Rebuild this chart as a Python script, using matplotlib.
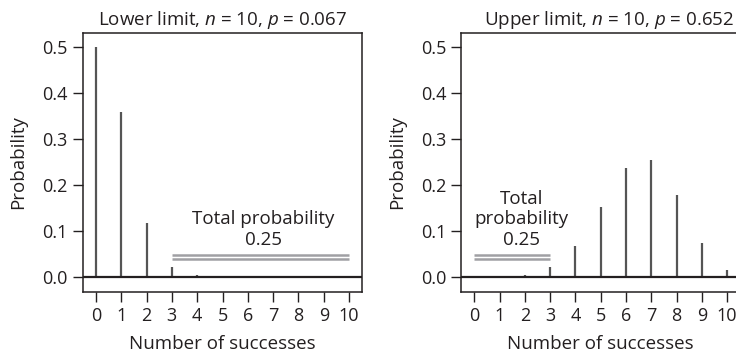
import matplotlib
matplotlib.use("Agg")
import matplotlib.pyplot as plt

plt.rcParams['font.family'] = ['Open Sans', 'DejaVu Sans']
plt.rcParams['mathtext.fontset'] = 'custom'
plt.rcParams['mathtext.rm'] = 'Open Sans'
plt.rcParams['mathtext.it'] = 'Open Sans:italic'

successes = [0, 1, 2, 3, 4, 5, 6, 7, 8, 9, 10]
prob_lower = [0.500, 0.359, 0.116, 0.022, 0.003, 0.0002, 0.0, 0.0, 0.0, 0.0, 0.0]
prob_upper = [0.00003, 0.0005, 0.004, 0.021, 0.067, 0.152, 0.237, 0.253, 0.178, 0.074, 0.014]
titles = ["Lower limit, $n$ = 10, $p$ = 0.067", "Upper limit, $n$ = 10, $p$ = 0.652"]
yticks = [0.0, 0.1, 0.2, 0.3, 0.4, 0.5]
ytick_labels = ["0.0", "0.1", "0.2", "0.3", "0.4", "0.5"]
xtick_labels = [str(s) for s in successes]
band_lower = (3, 10)
band_upper = (0, 3)
band_text_lower = "Total probability\n0.25"
band_text_upper = "Total\nprobability\n0.25"

W, H = 736, 358
fig = plt.figure(figsize=(W / 100, H / 100), dpi=100)
axL = fig.add_axes([82.5 / W, (H - 292) / H, (362 - 82.5) / W, (292 - 33) / H])
axR = fig.add_axes([461 / W, (H - 292) / H, (740 - 461) / W, (292 - 33) / H])

stem_c = '#555555'
band_c = '#a0a0a4'
txt_c = '#231f20'
fs = 13.5

def setup(ax, probs, title, band, btxt, btx, title_x):
    ax.vlines(successes, 0, probs, color=stem_c, lw=1.6)
    ax.axhline(0, color=txt_c, lw=1.6, zorder=3)
    ax.set_xlim(-0.53, 10.51)
    ax.set_ylim(-0.033, 0.530)
    ax.set_xticks(successes)
    ax.set_xticklabels(xtick_labels)
    ax.set_yticks(yticks)
    ax.set_yticklabels(ytick_labels)
    ax.tick_params(axis='both', direction='out', length=7, width=1, colors=txt_c,
                   labelsize=13, labelcolor=txt_c)
    ax.tick_params(axis='x', pad=4)
    for s in ax.spines.values():
        s.set_linewidth(1.1)
        s.set_color(txt_c)
    ax.set_xlabel("Number of successes", fontsize=fs, color=txt_c, labelpad=7)
    ax.set_ylabel("Probability", fontsize=fs, color=txt_c, labelpad=11)
    ax.set_title(title, fontsize=fs, color=txt_c, x=title_x, pad=6)
    ax.hlines([0.048, 0.039], band[0], band[1], color=band_c, lw=1.8)
    ax.text(btx, 0.060, btxt, ha='center', va='bottom', fontsize=fs,
            color=txt_c, linespacing=1.2)

setup(axL, prob_lower, titles[0], band_lower, band_text_lower, 6.6, 0.5)
setup(axR, prob_upper, titles[1], band_upper, band_text_upper, 1.85, 0.53)

fig.savefig("out.png", dpi=100)
